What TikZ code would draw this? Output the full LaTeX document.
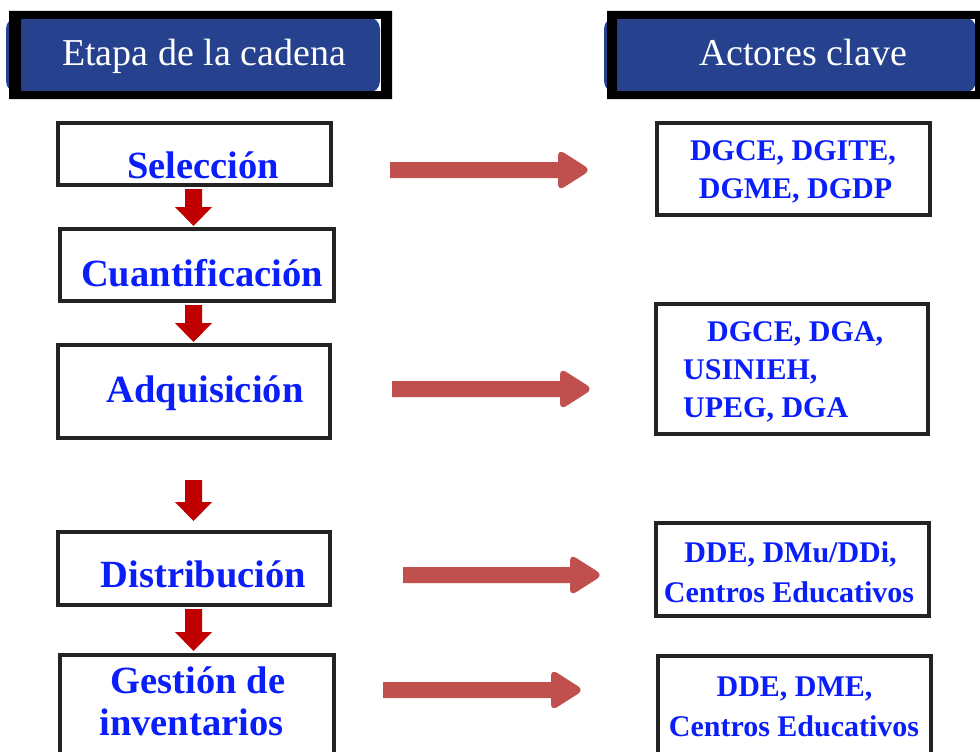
\documentclass[tikz,border=0pt]{standalone}
\usepackage{fontspec}
\setmainfont{Liberation Serif}
\usetikzlibrary{calc}
\definecolor{hdrblue}{RGB}{38,66,143}
\definecolor{txtblue}{RGB}{10,30,250}
\definecolor{darkred}{RGB}{192,0,0}
\definecolor{softred}{RGB}{192,80,77}
\definecolor{frame}{RGB}{35,35,35}
\tikzset{
  box/.style={draw=frame, line width=4pt, fill=white, inner sep=0pt, outer sep=0pt},
  lbl/.style={font=\bfseries\fontsize{38.5}{42}\selectfont, text=txtblue, inner sep=0pt, anchor=base},
  rlbl/.style={font=\bfseries\fontsize{30}{34}\selectfont, text=txtblue, inner sep=0pt, anchor=base},
  hdr/.style={font=\fontsize{38}{42}\selectfont, text=white, inner sep=0pt, anchor=base},
  darrowc/.style={fill=darkred},
  harrowc/.style={fill=softred},
}
\newcommand{\vblockarrow}[2]{%
  \fill[darrowc] ($(#1)+(-8.5,0)$) -- ($(#2)+(-8.5,-19)$) -- ($(#2)+(-18.5,-19)$) -- (#2)
    -- ($(#2)+(18.5,-19)$) -- ($(#2)+(8.5,-19)$) -- ($(#1)+(8.5,0)$) -- cycle;}
\newcommand{\hblockarrow}[2]{%
  \fill[harrowc] ($(#1)+(0,-8)$) -- ($(#2)+(-30,-8)$) [rounded corners=7pt] -- ($(#2)+(-30,-21)$)
    -- ($(#2)+(3,0)$) -- ($(#2)+(-30,21)$) [sharp corners] -- ($(#2)+(-30,8)$) -- ($(#1)+(0,8)$) -- cycle;}
\begin{document}
\begin{tikzpicture}[x=1pt,y=-1pt]
\clip (0,0) rectangle (980,752);
\fill[white] (0,0) rectangle (980,752);

% headers
\fill[hdrblue, rounded corners=12pt] (6,17) rectangle (380,93);
\fill[black, even odd rule] (9,11) rectangle (392,99) (21,19) rectangle (381,91);
\node[hdr] (h1) at (204,66) {Etapa de la cadena};

\fill[hdrblue, rounded corners=12pt] (604,17) rectangle (976,93);
\fill[black, even odd rule] (607,11) rectangle (990,99) (617,19) rectangle (975,91);
\node[hdr] (h2) at (803,66) {Actores clave};

% left boxes
\node[box, minimum width=273pt, minimum height=62pt] (b1) at (194.5,154) {};
\node[box, minimum width=274pt, minimum height=72pt] (b2) at (197,265) {};
\node[box, minimum width=272pt, minimum height=93pt] (b3) at (194,391.5) {};
\node[box, minimum width=272pt, minimum height=73pt] (b4) at (194,568.5) {};
\node[box, minimum width=274pt, minimum height=110pt] (b5) at (197,710) {};

\node[lbl] (t1) at (203,178) {Selección};
\node[lbl] (t2) at (202,286) {Cuantificación};
\node[lbl] (t3) at (205,402) {Adquisición};
\node[lbl] (t4) at (203.5,587) {Distribución};
\node[lbl] (t5a) at (198,693) {Gestión de};
\node[lbl] (t5b) at (191.5,735) {inventarios};

% right boxes
\node[box, minimum width=273pt, minimum height=92pt] (r1) at (793.5,169) {};
\node[box, minimum width=272pt, minimum height=130pt] (r2) at (792,369) {};
\node[box, minimum width=273pt, minimum height=93pt] (r3) at (792.5,569.5) {};
\node[box, minimum width=273pt, minimum height=110pt] (r4) at (794.5,711) {};

\node[rlbl] (s1a) at (793,160) {DGCE, DGITE,};
\node[rlbl] (s1b) at (795.5,198) {DGME, DGDP};
\node[rlbl, anchor=base west] (s2a) at (707,341) {DGCE, DGA,};
\node[rlbl, anchor=base west] (s2b) at (683,379) {USINIEH,};
\node[rlbl, anchor=base west] (s2c) at (683,417) {UPEG, DGA};
\node[rlbl] (s3a) at (790.5,562) {DDE, DMu/DDi,};
\node[rlbl] (s3b) at (789,602) {Centros Educativos};
\node[rlbl] (s4a) at (794.5,696) {DDE, DME,};
\node[rlbl] (s4b) at (794,736) {Centros Educativos};

% down arrows
\coordinate (d1s) at (193.5,189); \coordinate (d1e) at (193.5,226);
\coordinate (d2s) at (193.5,305); \coordinate (d2e) at (193.5,342);
\coordinate (d3s) at (193.5,480); \coordinate (d3e) at (193.5,521);
\coordinate (d4s) at (193.5,609); \coordinate (d4e) at (193.5,651);
\vblockarrow{d1s}{d1e}
\vblockarrow{d2s}{d2e}
\vblockarrow{d3s}{d3e}
\vblockarrow{d4s}{d4e}

% horizontal arrows
\coordinate (a1s) at (390,170); \coordinate (a1e) at (588,170);
\coordinate (a2s) at (392,389); \coordinate (a2e) at (590,389);
\coordinate (a3s) at (403,575); \coordinate (a3e) at (600,575);
\coordinate (a4s) at (383,690); \coordinate (a4e) at (581,690);
\hblockarrow{a1s}{a1e}
\hblockarrow{a2s}{a2e}
\hblockarrow{a3s}{a3e}
\hblockarrow{a4s}{a4e}
\end{tikzpicture}
\end{document}
